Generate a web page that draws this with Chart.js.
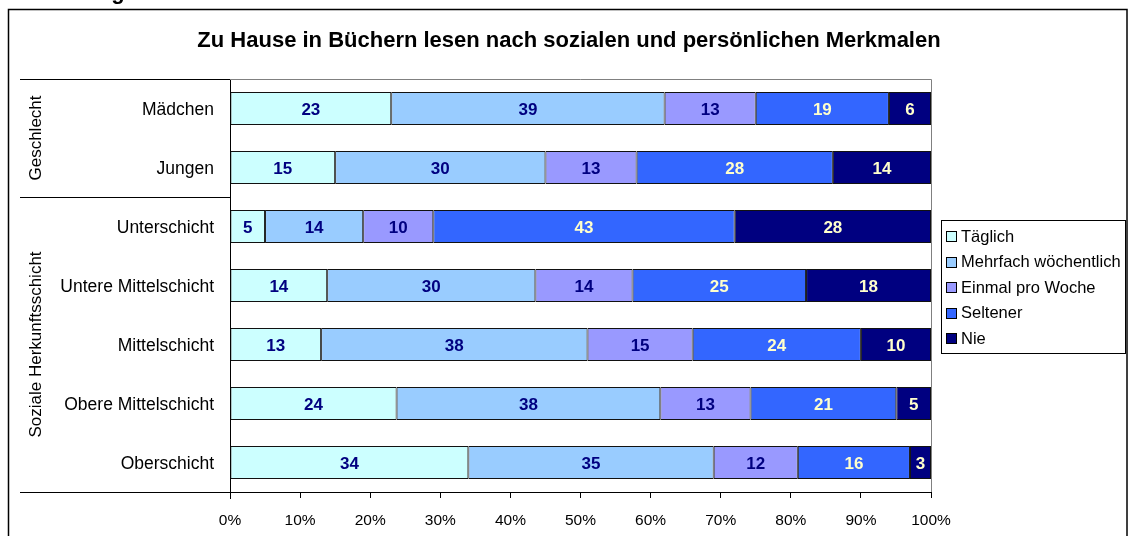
<!DOCTYPE html>
<html>
<head>
<meta charset="utf-8">
<script src="https://cdn.jsdelivr.net/npm/chart.js@4.4.1/dist/chart.umd.min.js"></script>
<style>
    html, body { margin: 0; padding: 0; background: #fff; }
    #wrap { width: 1128px; height: 536px; position: relative; }
</style>
</head>
<body>
<div id="wrap"><canvas id="chart"></canvas></div>
<script>
// Daten aus der Abbildung
const categories = ['Mädchen', 'Jungen', 'Unterschicht', 'Untere Mittelschicht', 'Mittelschicht', 'Obere Mittelschicht', 'Oberschicht'];
const groupNames = ['Geschlecht', 'Soziale Herkunftsschicht'];
const groupSizes = [2, 5];
const seriesNames = ['Täglich', 'Mehrfach wöchentlich', 'Einmal pro Woche', 'Seltener', 'Nie'];
const taeglich = [23, 15, 5, 14, 13, 24, 34];
const mehrfach = [39, 30, 14, 30, 38, 38, 35];
const einmal = [13, 13, 10, 14, 15, 13, 12];
const seltener = [19, 28, 43, 25, 24, 21, 16];
const nie = [6, 14, 28, 18, 10, 5, 3];
const xTickLabels = ['0%', '10%', '20%', '30%', '40%', '50%', '60%', '70%', '80%', '90%', '100%'];

const FONT = "'Liberation Sans', Arial, sans-serif";
const TITLE = 'Zu Hause in Büchern lesen nach sozialen und persönlichen Merkmalen';
const colors = ['#CCFFFF', '#99CCFF', '#9999FF', '#3366FF', '#000080'];
const labelColors = ['#000080', '#000080', '#000080', '#FFFFCC', '#FFFFCC'];

const allSeries = [taeglich, mehrfach, einmal, seltener, nie];
// 100%-gestapelt: jede Zeile auf ihre Summe normieren
const rowSums = categories.map((c, i) => allSeries.reduce((s, arr) => s + arr[i], 0));

const datasets = allSeries.map((arr, k) => ({
    label: seriesNames[k],
    raw: arr,
    data: arr.map((v, i) => v / rowSums[i] * 100),
    backgroundColor: colors[k],
    borderColor: '#111',
    borderWidth: 1,
    borderSkipped: false,
    barPercentage: 0.56,
    categoryPercentage: 1.0
}));

const decorations = {
    id: 'decorations',
    afterDraw(chart) {
        const ctx = chart.ctx;
        const area = chart.chartArea;
        const band = (area.bottom - area.top) / categories.length;
        ctx.save();

        // abgeschnittene Überschrift oben
        ctx.fillStyle = '#000';
        ctx.font = 'bold 22px ' + FONT;
        ctx.textBaseline = 'alphabetic';
        ctx.textAlign = 'left';
        ctx.fillText('Abbildung', 16, -1);

        // Titel
        ctx.font = 'bold 22px ' + FONT;
        ctx.textAlign = 'center';
        ctx.textBaseline = 'middle';
        ctx.fillText(TITLE, 569, 41);

        // Rahmen
        ctx.strokeStyle = '#000';
        ctx.lineWidth = 1.5;
        ctx.strokeRect(8.5, 9.5, 1118.5, 600);

        // Plotbereich oben/rechts grau
        ctx.lineWidth = 1;
        ctx.strokeStyle = '#808080';
        ctx.beginPath();
        ctx.moveTo(area.left, area.top + 0.5);
        ctx.lineTo(area.right + 0.5, area.top + 0.5);
        ctx.lineTo(area.right + 0.5, area.bottom);
        ctx.stroke();

        // Trennlinien der Gruppen
        ctx.strokeStyle = '#000';
        let idx = 0;
        const bounds = [0];
        groupSizes.forEach(n => { idx += n; bounds.push(idx); });
        bounds.forEach(b => {
            const y = Math.round(area.top + b * band) + 0.5;
            ctx.beginPath();
            ctx.moveTo(20, y);
            ctx.lineTo(area.left, y);
            ctx.stroke();
        });
        // Achse links etwas nach unten verlängert
        ctx.beginPath();
        ctx.moveTo(area.left + 0.5, area.bottom);
        ctx.lineTo(area.left + 0.5, area.bottom + 7);
        ctx.stroke();

        // Gruppenbeschriftungen (gedreht)
        ctx.fillStyle = '#000';
        ctx.font = '17px ' + FONT;
        ctx.textAlign = 'center';
        ctx.textBaseline = 'middle';
        groupNames.forEach((g, i) => {
            const yc = area.top + (bounds[i] + bounds[i + 1]) / 2 * band;
            ctx.save();
            ctx.translate(36, yc);
            ctx.rotate(-Math.PI / 2);
            ctx.fillText(g, 0, 0);
            ctx.restore();
        });

        // Werte in den Balken
        ctx.font = 'bold 17px ' + FONT;
        chart.data.datasets.forEach((ds, k) => {
            const meta = chart.getDatasetMeta(k);
            ctx.fillStyle = labelColors[k];
            meta.data.forEach((bar, i) => {
                const xc = (bar.x + bar.base) / 2;
                ctx.fillText(String(ds.raw[i]), xc, bar.y + 2);
            });
        });

        // Legende
        const lx = 941, ly = 220, lw = 184, lh = 133;
        ctx.fillStyle = '#fff';
        ctx.fillRect(lx, ly, lw, lh);
        ctx.strokeStyle = '#000';
        ctx.strokeRect(lx + 0.5, ly + 0.5, lw, lh);
        ctx.font = '16.5px ' + FONT;
        ctx.textAlign = 'left';
        chart.data.datasets.forEach((ds, k) => {
            const yc = 236 + k * 25.6;
            ctx.fillStyle = colors[k];
            ctx.fillRect(946, Math.round(yc - 5), 10, 10);
            ctx.strokeStyle = '#000';
            ctx.strokeRect(946.5, Math.round(yc - 5) + 0.5, 10, 10);
            ctx.fillStyle = '#000';
            ctx.fillText(ds.label, 961, yc + 1);
        });

        ctx.restore();
    }
};

new Chart(document.getElementById('chart').getContext('2d'), {
    type: 'bar',
    data: { labels: categories, datasets: datasets },
    plugins: [decorations],
    options: {
        indexAxis: 'y',
        responsive: true,
        maintainAspectRatio: false,
        animation: false,
        layout: { padding: { left: 0, top: 79, right: 197, bottom: 0 } },
        plugins: {
            legend: { display: false },
            tooltip: { enabled: false },
            title: { display: false }
        },
        scales: {
            x: {
                stacked: true,
                min: 0,
                max: 100,
                afterFit(scale) { scale.height = 44; },
                grid: { drawOnChartArea: false, drawTicks: true, tickLength: 6, color: '#000' },
                border: { color: '#000', width: 1 },
                ticks: {
                    stepSize: 10,
                    padding: 13,
                    color: '#000',
                    font: { size: 15.5, family: FONT },
                    callback: (v, i) => xTickLabels[i]
                }
            },
            y: {
                stacked: true,
                afterFit(scale) { scale.width = 230; },
                grid: { display: false },
                border: { color: '#000', width: 1 },
                ticks: {
                    padding: 8,
                    labelOffset: 2,
                    color: '#000',
                    font: { size: 17.5, family: FONT }
                }
            }
        }
    }
});
</script>
</body>
</html>
